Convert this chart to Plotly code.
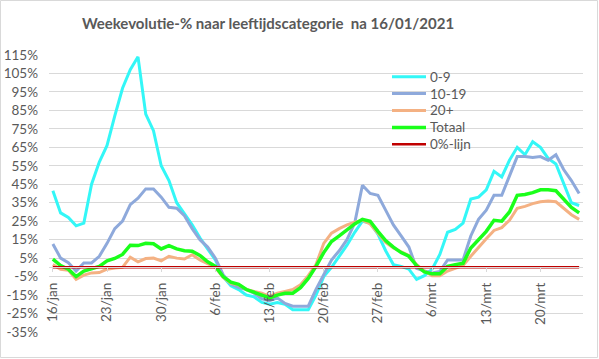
import pandas as pd
import plotly.graph_objects as go

dates = pd.date_range("2021-01-16", "2021-03-25", freq="D")

age_0_9 = [41.5, 29.5, 27, 22.5, 24, 45, 57, 66, 82, 97, 107, 114, 83, 74, 55, 47, 35, 29,
           23, 16, 10, 4, -5, -10, -12, -15, -16, -19, -20, -19, -20, -23, -23, -23,
           -15, -5, 0, 6, 12, 19, 25, 24, 18, 9, 1.5, 0.5, -1, -6.5, -4.5, -1, 7,
           19, 20.5, 24, 37, 38, 42, 52, 49, 58, 65, 61, 68, 65, 59, 56, 45, 35, 33.5]
age_10_19 = [12.7, 5, 2.5, -2, 2.4, 2.4, 6, 13, 21, 25, 34, 37.5, 42.5, 42.5, 38, 32.5, 32, 28,
             21, 15, 11, 5, -4, -9, -11, -12, -14, -17, -18, -16.5, -19.5, -21, -21, -21,
             -12, -4, 4, 9, 15, 24, 44.5, 40, 39, 31, 23, 17, 11, -0.5, -2, -3, -2.2,
             4, 4, 4, 17, 26, 31, 39, 39, 49, 60, 60, 59.5, 60, 58, 61, 53, 47, 40]
age_20_plus = [1.5, -1, -1.5, -6.5, -4.2, -3, -2.8, -1, -0.3, 0, 5.5, 3, 4.8, 5, 3.5, 6, 5, 4.5,
               6.8, 4, 2, 0, -5.5, -8.6, -9.4, -12, -13, -14, -15.7, -14, -13, -12, -9.4, -4.5,
               1.5, 13, 18.5, 21, 23, 24.5, 25.5, 23.5, 18.5, 13.5, 10.5, 8.5, 6.5, 1.5, -2, -4.5, -4.5,
               -2, -0.3, 1, 6, 11, 15.5, 20, 21.5, 25.5, 32, 33, 34.5, 35.5, 36, 35.5, 32, 28.5, 26]
totaal = [4.5, 1, -1, -5, -2, -0.5, 0.5, 3.5, 4.8, 7, 12, 11.8, 13, 12.8, 10, 11.8, 10, 9,
          8.7, 6.5, 3, 0.5, -5, -8, -9.2, -12, -13.5, -15, -16.5, -15, -14, -14, -11, -6,
          0.5, 8, 14, 17, 20.5, 23.5, 26, 25, 19.5, 14.5, 11, 8, 6, 1, -2.5, -3.5, -3.5,
          0.5, 1.5, 2.2, 10.5, 15, 19.5, 25.5, 25, 30, 39, 39.5, 40.5, 42, 42, 41.5, 37, 32.5, 29.5]
zero_line = [0] * len(dates)

x_tick_dates = ["2021-01-16", "2021-01-23", "2021-01-30", "2021-02-06", "2021-02-13",
                "2021-02-20", "2021-02-27", "2021-03-06", "2021-03-13", "2021-03-20"]
x_tick_labels = ["16/jan", "23/jan", "30/jan", "6/feb", "13/feb", "20/feb", "27/feb",
                 "6/mrt", "13/mrt", "20/mrt"]
y_tick_vals = [-35, -25, -15, -5, 5, 15, 25, 35, 45, 55, 65, 75, 85, 95, 105, 115]
y_tick_labels = ["-35%", "-25%", "-15%", "-5%", "5%", "15%", "25%", "35%", "45%", "55%",
                 "65%", "75%", "85%", "95%", "105%", "115%"]

series = [
    ("0-9", age_0_9, "#33F7F7", 3),
    ("10-19", age_10_19, "#8EA9DB", 3),
    ("20+", age_20_plus, "#F4B183", 3),
    ("Totaal", totaal, "#1AFF1A", 3.5),
    ("0%-lijn", zero_line, "#C00000", 2.5),
]

W, H = 599, 359
ml, mr, mt, mb = 49, 16, 55, 27
pw, ph = W - ml - mr, H - mt - mb


def px_x(p):
    return (p - ml) / pw


def px_y(p):
    return 1 - (p - mt) / ph


fig = go.Figure()
for name, vals, color, w in series:
    fig.add_trace(go.Scatter(x=dates, y=vals, mode="lines", name=name,
                             line=dict(color=color, width=w), showlegend=False))

shapes = [dict(type="rect", xref="paper", yref="paper",
               x0=px_x(0.5), x1=px_x(W - 1.5), y0=px_y(H - 1.5), y1=px_y(0.5),
               line=dict(color="#D9D9D9", width=1), fillcolor="rgba(0,0,0,0)",
               layer="below")]
annotations = []
leg_y0, leg_dy = 76.7, 16.9
for k, (name, vals, color, w) in enumerate(series):
    yy = leg_y0 + k * leg_dy
    shapes.append(dict(type="line", xref="paper", yref="paper",
                       x0=px_x(392), x1=px_x(426), y0=px_y(yy), y1=px_y(yy),
                       line=dict(color=color, width=w)))
    annotations.append(dict(text=name, xref="paper", yref="paper",
                            x=px_x(428), y=px_y(yy), xanchor="left", yanchor="middle",
                            showarrow=False, font=dict(size=13.5, color="#595959")))

ymin, ymax = -35, 115
fig.update_layout(
    template="none",
    width=W, height=H,
    margin=dict(l=ml, r=mr, t=mt, b=mb, autoexpand=False),
    paper_bgcolor="white", plot_bgcolor="white",
    font=dict(family="Lato, 'Open Sans', sans-serif", color="#595959", size=13),
    title=dict(text="<b>Weekevolutie-% naar leeftijdscategorie  na 16/01/2021</b>",
               x=268 / W, xanchor="center", xref="container",
               y=1 - 24 / H, yanchor="middle", yref="container",
               font=dict(size=15, color="#595959")),
    showlegend=False,
    hovermode=False,
    xaxis=dict(
        range=[pd.Timestamp("2021-01-15 12:00"), pd.Timestamp("2021-03-25 12:00")],
        tickmode="array", tickvals=x_tick_dates, ticktext=x_tick_labels,
        tickangle=-90, showgrid=False, zeroline=False, automargin=False,
        showline=True, linecolor="#D9D9D9", linewidth=1,
        ticks="outside", ticklen=4, tickcolor="#D9D9D9",
        anchor="free", position=(0 - ymin) / (ymax - ymin),
        ticklabelstandoff=5,
        tickfont=dict(size=13.5, color="#595959"),
    ),
    yaxis=dict(
        range=[ymin, ymax], tickmode="array", tickvals=y_tick_vals, ticktext=y_tick_labels,
        showgrid=True, gridcolor="#D9D9D9", gridwidth=1, zeroline=False, automargin=False,
        showline=False, ticks="", ticklabelstandoff=10,
        tickfont=dict(size=13.5, color="#595959"),
    ),
    shapes=shapes,
    annotations=annotations,
)

fig.write_html("out.html", config={"displayModeBar": False, "staticPlot": True},
               post_script="document.body.style.margin='0';document.body.style.overflow='hidden';")
